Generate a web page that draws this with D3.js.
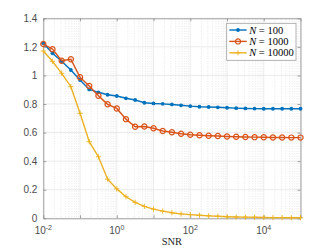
<!DOCTYPE html>
<html>
<head>
<meta charset="utf-8">
<script src="https://cdn.jsdelivr.net/npm/d3@7"></script>
<style>
  html, body { margin: 0; padding: 0; background: #fff; }
  svg { display: block; }
</style>
</head>
<body>
<div id="chart"></div>
<script>
// DATA
var snr = [0.01, 0.01778, 0.03162, 0.05623, 0.1, 0.1778, 0.3162, 0.5623,
    1, 1.778, 3.162, 5.623, 10, 17.78, 31.62, 56.23, 100, 177.8, 316.2, 562.3,
    1000, 1778, 3162, 5623, 10000, 17780, 31620, 56230, 100000];
var n100 = [1.225, 1.155, 1.099, 1.038, 0.968, 0.902, 0.882, 0.865, 0.856, 0.840,
    0.828, 0.809, 0.804, 0.801, 0.797, 0.791, 0.785, 0.781, 0.779, 0.777,
    0.774, 0.771, 0.769, 0.768, 0.767, 0.767, 0.767, 0.767, 0.767];
var n1000 = [1.220, 1.184, 1.103, 1.113, 0.987, 0.926, 0.858, 0.798, 0.769, 0.694,
    0.641, 0.643, 0.630, 0.611, 0.602, 0.592, 0.585, 0.581, 0.578, 0.576,
    0.573, 0.571, 0.569, 0.568, 0.567, 0.566, 0.566, 0.565, 0.565];
var n10000 = [1.171, 1.099, 1.015, 0.921, 0.735, 0.536, 0.431, 0.274, 0.206, 0.151,
    0.112, 0.083, 0.064, 0.050, 0.039, 0.031, 0.026, 0.021, 0.017, 0.014,
    0.011, 0.009, 0.008, 0.007, 0.006, 0.005, 0.005, 0.004, 0.004];
var seriesNames = ["100", "1000", "10000"];
var yTicks = [0, 0.2, 0.4, 0.6, 0.8, 1, 1.2, 1.4];
var xTickExps = [-2, 0, 2, 4];

var W = 332, H = 249;
var margin = {left: 43.3, right: 31.5, top: 18.3, bottom: 30.7};
var pw = W - margin.left - margin.right;
var ph = H - margin.top - margin.bottom;
var colors = ["#0072BD", "#D95319", "#EDB120"];
var markers = ["dot", "circle", "plus"];

var svg = d3.select("#chart").append("svg")
    .attr("width", W)
    .attr("height", H);

var g = svg.append("g")
    .attr("transform", "translate(" + margin.left + "," + margin.top + ")");

var x = d3.scaleLog().domain([1e-2, 1e5]).range([0, pw]);
var y = d3.scaleLinear().domain([0, 1.4]).range([ph, 0]);

// GRID - minor x (dotted)
var minor = [];
for (var e = -2; e < 5; e++) {
    for (var k = 2; k <= 9; k++) minor.push(k * Math.pow(10, e));
}
g.append("g").selectAll("line").data(minor).enter().append("line")
    .attr("x1", function(d) { return x(d); })
    .attr("x2", function(d) { return x(d); })
    .attr("y1", 0).attr("y2", ph)
    .attr("stroke", "#d6d6d6")
    .attr("stroke-width", 0.6)
    .attr("stroke-dasharray", "1,1.5");

// GRID - major
var decades = d3.range(-2, 6).map(function(d) { return Math.pow(10, d); });
g.append("g").selectAll("line").data(decades).enter().append("line")
    .attr("x1", function(d) { return x(d); })
    .attr("x2", function(d) { return x(d); })
    .attr("y1", 0).attr("y2", ph)
    .attr("stroke", "#e3e3e3")
    .attr("stroke-width", 0.7);
g.append("g").selectAll("line").data(yTicks).enter().append("line")
    .attr("x1", 0).attr("x2", pw)
    .attr("y1", function(d) { return y(d); })
    .attr("y2", function(d) { return y(d); })
    .attr("stroke", "#e3e3e3")
    .attr("stroke-width", 0.7);

// AXES (ticks inside, box on)
var axisColor = "#8c8c8c";
var yAxis = d3.axisLeft(y).tickValues(yTicks).tickSizeInner(-3).tickSizeOuter(0)
    .tickPadding(6).tickFormat(function(d) { return d3.format("")(d); });
var yAxisR = d3.axisRight(y).tickValues(yTicks).tickSizeInner(-3).tickSizeOuter(0)
    .tickFormat("");
var xAxis = d3.axisBottom(x).tickValues(decades).tickSizeInner(-3).tickSizeOuter(0)
    .tickFormat("");
var xAxisT = d3.axisTop(x).tickValues(decades).tickSizeInner(-3).tickSizeOuter(0)
    .tickFormat("");

function styleAxis(sel) {
    sel.selectAll("path, line").attr("stroke", axisColor).attr("stroke-width", 0.8);
    sel.selectAll("text").attr("fill", "#4d4d4d")
        .style("font-family", "'Liberation Sans', Arial, sans-serif")
        .style("font-size", "10px");
}
g.append("g").call(yAxis).call(styleAxis);
g.append("g").attr("transform", "translate(" + pw + ",0)").call(yAxisR).call(styleAxis);
g.append("g").attr("transform", "translate(0," + ph + ")").call(xAxis).call(styleAxis);
g.append("g").call(xAxisT).call(styleAxis);

// X tick labels 10^k
var xl = g.append("g").selectAll("text").data(xTickExps).enter().append("text")
    .attr("x", function(d) { return x(Math.pow(10, d)); })
    .attr("y", ph + 16)
    .attr("text-anchor", "middle")
    .attr("fill", "#4d4d4d")
    .style("font-family", "'Liberation Sans', Arial, sans-serif")
    .style("font-size", "10px");
xl.append("tspan").text("10");
xl.append("tspan").attr("dy", -4).style("font-size", "7px")
    .text(function(d) { return d < 0 ? "-" + Math.abs(d) : d; });

// X label
g.append("text")
    .attr("x", pw / 2)
    .attr("y", ph + 27)
    .attr("text-anchor", "middle")
    .attr("fill", "#262626")
    .style("font-family", "'Liberation Serif', 'DejaVu Serif', serif")
    .style("font-size", "10.5px")
    .text("SNR");

// SERIES
var series = [n100, n1000, n10000].map(function(vals, i) {
    return {name: seriesNames[i], color: colors[i], marker: markers[i],
        pts: vals.map(function(v, j) { return {x: snr[j], y: v}; })};
});

var line = d3.line()
    .x(function(d) { return x(d.x); })
    .y(function(d) { return y(d.y); });

function drawMarker(sel, type, color) {
    if (type === "dot") {
        sel.append("circle").attr("r", 1.9).attr("fill", color);
    } else if (type === "circle") {
        sel.append("circle").attr("r", 2.6).attr("fill", "none")
            .attr("stroke", color).attr("stroke-width", 1.2);
    } else {
        sel.append("path").attr("d", "M-2.6,0H2.6M0,-2.6V2.6")
            .attr("stroke", color).attr("stroke-width", 0.9);
    }
}

series.forEach(function(s) {
    g.append("path")
        .datum(s.pts)
        .attr("d", line)
        .attr("fill", "none")
        .attr("stroke", s.color)
        .attr("stroke-width", 1.4);
    g.append("g").selectAll("g").data(s.pts).enter().append("g")
        .attr("transform", function(d) { return "translate(" + x(d.x) + "," + y(d.y) + ")"; })
        .each(function() { drawMarker(d3.select(this), s.marker, s.color); });
});

// LEGEND
var lg = svg.append("g").attr("transform", "translate(226.7,23.3)");
lg.append("rect")
    .attr("width", 69.3).attr("height", 37)
    .attr("fill", "#fff")
    .attr("stroke", "#a0a0a0")
    .attr("stroke-width", 0.8);
series.forEach(function(s, i) {
    var row = lg.append("g").attr("transform", "translate(0," + (6.7 + i * 11.4) + ")");
    row.append("line")
        .attr("x1", 2.6).attr("x2", 20)
        .attr("stroke", s.color).attr("stroke-width", 1.4);
    drawMarker(row.append("g").attr("transform", "translate(11.3,0)"), s.marker, s.color);
    var t = row.append("text")
        .attr("x", 22.5).attr("y", 3.6)
        .attr("fill", "#000")
        .style("font-family", "'Liberation Serif', 'DejaVu Serif', serif")
        .style("font-size", "10.5px");
    t.append("tspan").style("font-style", "italic").text("N");
    t.append("tspan").text(" = " + s.name);
});
</script>
</body>
</html>
